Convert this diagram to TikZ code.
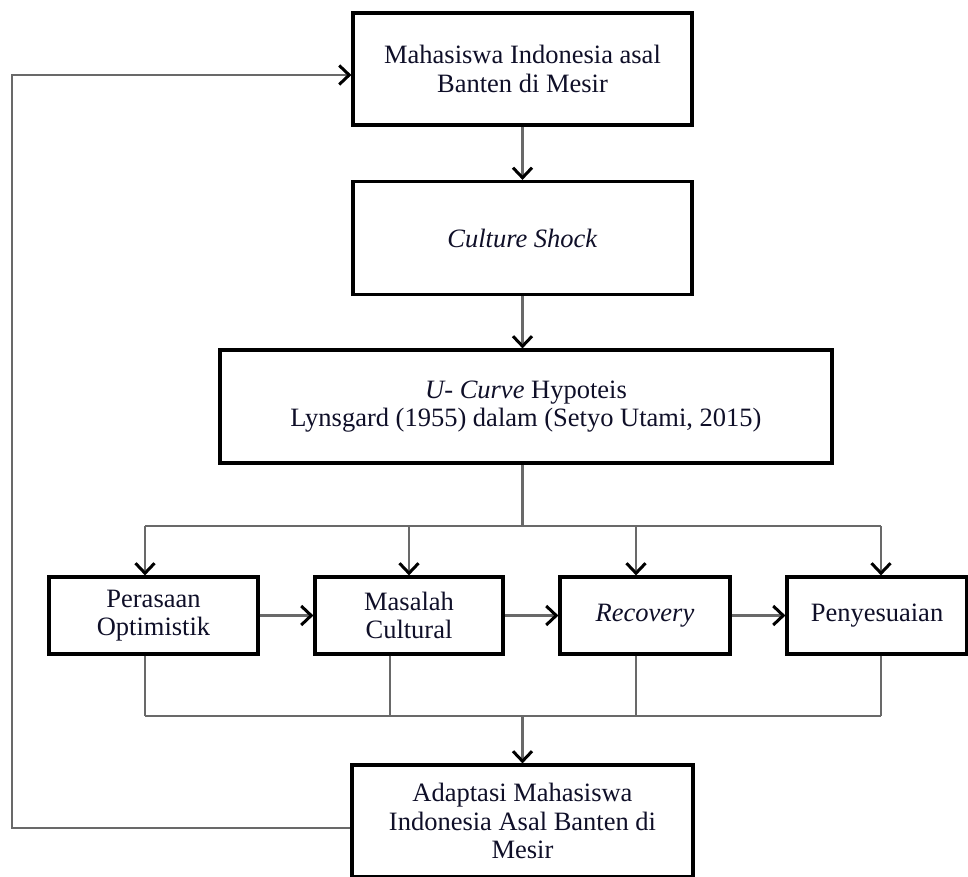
\documentclass[tikz,border=0pt]{standalone}
\usepackage{fontspec}
\setmainfont{Liberation Serif}
\usetikzlibrary{positioning, arrows.meta, calc}
\definecolor{lineGray}{RGB}{105,105,105}
\definecolor{textNavy}{RGB}{15,15,40}
\tikzset{
  box/.style={rectangle, draw=black, line width=3.2pt, fill=white, align=center,
    inner sep=2pt, text=textNavy, font=\fontsize{26.5}{28.5}\selectfont},
  stage/.style={box, minimum height=77pt},
  flow/.style={-{Straight Barb[length=10pt, width=19pt, line width=3pt, black]}, line width=2.8pt, lineGray},
  link/.style={line width=2.8pt, lineGray},
}

\begin{document}
\begin{tikzpicture}[x=1pt, y=-1pt]
  \useasboundingbox (0,0) rectangle (968,877);
  % main chain
  \node[box, minimum width=339pt, minimum height=112pt] (mhs) at (522.5,69) {Mahasiswa Indonesia asal\\Banten di Mesir};
  \node[box, minimum width=339pt, minimum height=113pt] (shock) at (522.5,238) {\textit{Culture Shock}};
  \node[box, minimum width=612pt, minimum height=113pt] (ucurve) at (526,406.5) {\textit{U- Curve} Hypoteis\\Lynsgard (1955) dalam (Setyo Utami, 2015)};
  % stages
  \node[stage, minimum width=209pt] (pa) at (153.5,615.5) {Perasaan\\Optimistik};
  \node[stage, minimum width=188pt] (mc) at (409,615.5) {Masalah\\Cultural};
  \node[stage, minimum width=170pt] (rc) at (645,615.5) {\textit{Recovery}};
  \node[stage, minimum width=180pt] (ps) at (877,615.5) {Penyesuaian};
  \node[box, minimum width=341pt, minimum height=112pt] (adapt) at (522.5,821) {Adaptasi Mahasiswa\\Indonesia Asal Banten di\\Mesir};

  \draw[flow] (mhs) -- (shock);
  \draw[flow] (shock.south) -- (shock.south |- ucurve.north);

  % split to stages
  \coordinate (splitC) at (522.5,526);
  \coordinate (splitL) at (145,526);
  \coordinate (splitR) at (881,526);
  \draw[link] (splitC |- ucurve.south) -- (splitC);
  \draw[link] (splitL) -- (splitR);
  \foreach \n/\x in {pa/145, mc/409, rc/636, ps/881} {
    \coordinate (t\n) at (\x,526);
    \draw[flow] (t\n) -- (t\n |- \n.north);
  }
  \draw[flow] (pa) -- (mc);
  \draw[flow] (mc) -- (rc);
  \draw[flow] (rc) -- (ps);

  % merge to adaptation
  \coordinate (mergeL) at (145,716);
  \coordinate (mergeR) at (881,716);
  \foreach \n/\x in {pa/145, mc/390, rc/636, ps/881} {
    \coordinate (b\n) at (\x,716);
    \draw[link] (b\n |- \n.south) -- (b\n);
  }
  \draw[link] (mergeL) -- (mergeR);
  \coordinate (merge) at (522.5,716);
  \draw[flow] (merge) -- (adapt);

  % feedback loop
  \coordinate (backL) at (12,828);
  \draw[flow] (adapt.west |- backL) -- (backL) |- ([yshift=-6pt]mhs.west);
\end{tikzpicture}
\end{document}
